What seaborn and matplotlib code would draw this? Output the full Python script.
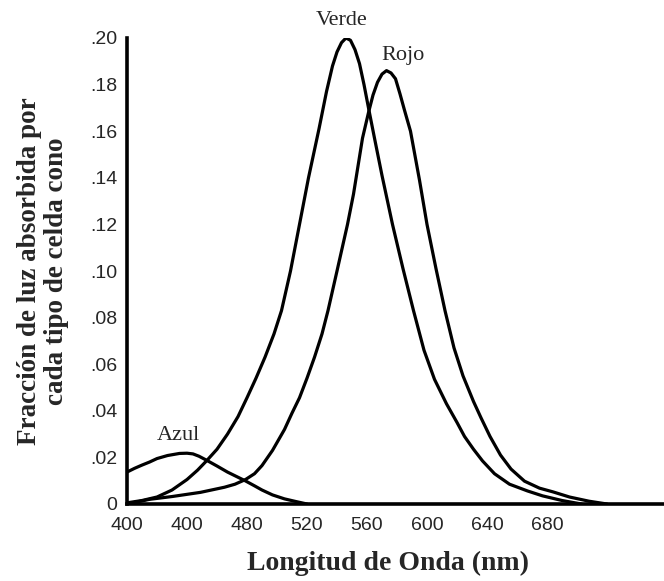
import seaborn as sns
import matplotlib.pyplot as plt

# Curvas de absorcion (nm, fraccion)
verde_nm = [400, 410, 420, 430, 440, 447, 453, 460, 467, 474, 480, 486, 492, 498, 503, 509,
            515, 521, 528, 533, 537, 540, 543, 546, 549, 552, 555, 558, 561, 565, 570, 577,
            584, 591, 598, 605, 613, 620, 625, 631, 637, 645, 655, 667, 677, 690, 703]
verde_val = [0.0005, 0.0015, 0.003, 0.006, 0.0105, 0.0145, 0.0185, 0.0235, 0.030, 0.0375,
             0.0456, 0.054, 0.063, 0.073, 0.083, 0.100, 0.120, 0.140, 0.161, 0.177, 0.188,
             0.194, 0.198, 0.200, 0.199, 0.195, 0.189, 0.180, 0.170, 0.157, 0.141, 0.120,
             0.101, 0.083, 0.066, 0.0535, 0.043, 0.035, 0.029, 0.0235, 0.0185, 0.013, 0.0085,
             0.0056, 0.0035, 0.0015, 0.0]

rojo_nm = [400, 415, 430, 449, 465, 472, 479, 485, 490, 497, 505, 510, 515, 520, 525, 530,
           534, 540, 547, 551, 554, 557, 561, 564, 567, 570, 573, 576, 579, 582, 585, 589,
           595, 600, 606, 612, 618, 624, 631, 636, 642, 649, 656, 665, 675, 684, 695, 708, 720]
rojo_val = [0.0, 0.002, 0.0032, 0.005, 0.0072, 0.0085, 0.0105, 0.013, 0.0165, 0.023, 0.032,
            0.039, 0.0456, 0.054, 0.063, 0.073, 0.083, 0.100, 0.120, 0.133, 0.145, 0.157,
            0.168, 0.1755, 0.181, 0.1845, 0.186, 0.185, 0.1825, 0.176, 0.169, 0.160, 0.139,
            0.120, 0.101, 0.083, 0.067, 0.055, 0.044, 0.037, 0.029, 0.021, 0.015, 0.0098,
            0.0068, 0.0052, 0.003, 0.0012, 0.0]

azul_nm = [400, 405, 410, 415, 420, 427, 435, 440, 444, 448, 453, 460, 467, 473, 479, 485,
           490, 497, 505, 513, 520]
azul_val = [0.0137, 0.0153, 0.0167, 0.018, 0.0195, 0.0208, 0.0217, 0.0218, 0.0215, 0.0205,
            0.0188, 0.0163, 0.0137, 0.0118, 0.0099, 0.0078, 0.006, 0.0039, 0.0022, 0.001, 0.0]

x_ticks = [400, 440, 480, 520, 560, 600, 640, 680]
x_labels = ['400', '400', '480', '520', '560', '600', '640', '680']
y_ticks = [0, 0.02, 0.04, 0.06, 0.08, 0.10, 0.12, 0.14, 0.16, 0.18, 0.20]
y_labels = ['0', '.02', '.04', '.06', '.08', '.10', '.12', '.14', '.16', '.18', '.20']

sns.set_style('white')

fig = plt.figure(figsize=(6.64, 5.81), dpi=100)
ax = fig.add_axes([127 / 664, (581 - 504) / 581, 1 - 127 / 664, (504 - 38) / 581])

lw = 2.3
sns.lineplot(x=verde_nm, y=verde_val, color='black', lw=lw, ax=ax)
sns.lineplot(x=rojo_nm, y=rojo_val, color='black', lw=lw, ax=ax)
sns.lineplot(x=azul_nm, y=azul_val, color='black', lw=lw, ax=ax)

ax.set_xlim(400, 400 + (664 - 127) / 1.5)
ax.set_ylim(0, 0.20)

serif = 'Liberation Serif'
ax.text(543, 0.2077, 'Verde', family=serif, fontsize=16, ha='center', va='center', clip_on=False)
ax.text(584, 0.1927, 'Rojo', family=serif, fontsize=16, ha='center', va='center')
ax.text(434, 0.0296, 'Azul', family=serif, fontsize=16, ha='center', va='center')

ax.set_xticks(x_ticks)
ax.set_xticklabels(x_labels)
ax.set_yticks(y_ticks)
ax.set_yticklabels(y_labels)
ax.tick_params(axis='x', direction='in', length=7, width=2, pad=9, labelsize=14)
ax.tick_params(axis='y', direction='in', length=0, pad=7, labelsize=14)
for lab in ax.get_xticklabels() + ax.get_yticklabels():
    lab.set_family('Liberation Sans')

for side in ['top', 'right']:
    ax.spines[side].set_visible(False)
for side in ['left', 'bottom']:
    ax.spines[side].set_color('black')
    ax.spines[side].set_linewidth(2.6)

ax.set_xlabel('Longitud de Onda (nm)', family=serif, fontsize=20, fontweight='bold', va='center')
ax.set_ylabel('Fracción de luz absorbida por\ncada tipo de celda cono', family=serif,
              fontsize=19.5, fontweight='bold', linespacing=1.1, va='center')
ax.xaxis.set_label_coords((388 - 127) / (664 - 127), -(563 - 504) / (504 - 38))
ax.yaxis.set_label_coords(-(127 - 43) / (664 - 127), 0.5)

fig.savefig('out.png', dpi=100)
